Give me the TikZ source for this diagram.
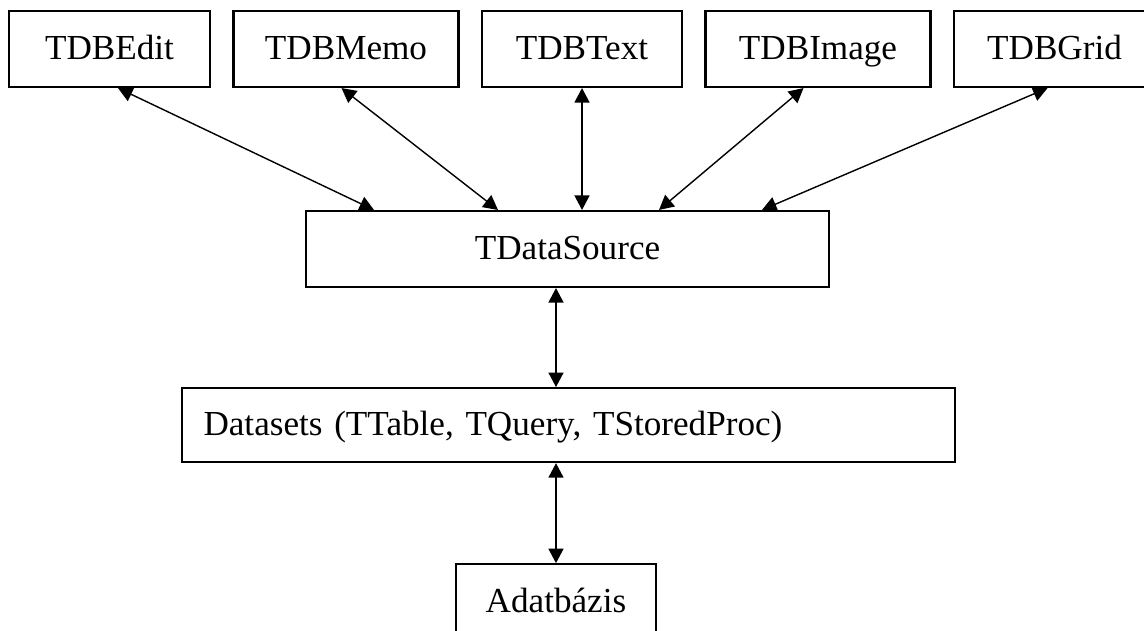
\documentclass[tikz,border=0pt]{standalone}
\usepackage{fontspec}
\setmainfont{Liberation Serif}
\usetikzlibrary{arrows.meta,chains,positioning}

\tikzset{
  comp/.style={draw, line width=1.2pt, minimum height=1.52cm, inner sep=0pt,
    font=\fontsize{20}{24}\selectfont, text height=15.4pt, text depth=4pt},
  link/.style={{Triangle[length=2.9mm,width=3mm]}-{Triangle[length=2.9mm,width=3mm]}, line width=0.8pt}
}

\begin{document}
\begin{tikzpicture}

\useasboundingbox (0,0) rectangle (22.88,-12.6);

% felso sor: adatfuggo vezerlok
\begin{scope}[shift={(2.19,-0.98)},start chain=going right,node distance=4.28mm]
\def\ctrls{1/{TDBEdit}/4.02cm,2/{TDBMemo}/4.5cm,3/{TDBText}/4.0cm,4/{TDBImage}/4.5cm,5/{TDBGrid}/4.02cm}
\foreach \i / \element / \boxw in \ctrls
  \node [comp, on chain, minimum width=\boxw] (t\i) {\element};
\end{scope}

\node [comp, minimum width=10.46cm] (src) at (11.35,-4.98) {TDataSource};

\node [comp, minimum height=1.48cm, text width=14.6cm, align=left, inner xsep=0.43cm,
  below=1.98cm of src, xshift=0.02cm] (dsets) {Datasets (TTable, TQuery, TStoredProc)};

\node [comp, minimum width=4cm, below=2cm of dsets, xshift=-0.25cm] (adat) {Adatbázis};

\foreach \i / \a / \b in {1/1.7mm/-38.7mm,2/-0.9mm/-13.9mm,4/-2.9mm/18.3mm,5/-1.4mm/38.9mm}
  \draw[link] ([xshift=\a]t\i.south) -- ([xshift=\b]src.north);
\draw[link] (t3.south) -- (t3.south |- src.north);

\draw[link] (adat.north |- src.south) -- (adat.north |- dsets.north);
\draw[link] (adat.north |- dsets.south) -- (adat.north);

\end{tikzpicture}
\end{document}
